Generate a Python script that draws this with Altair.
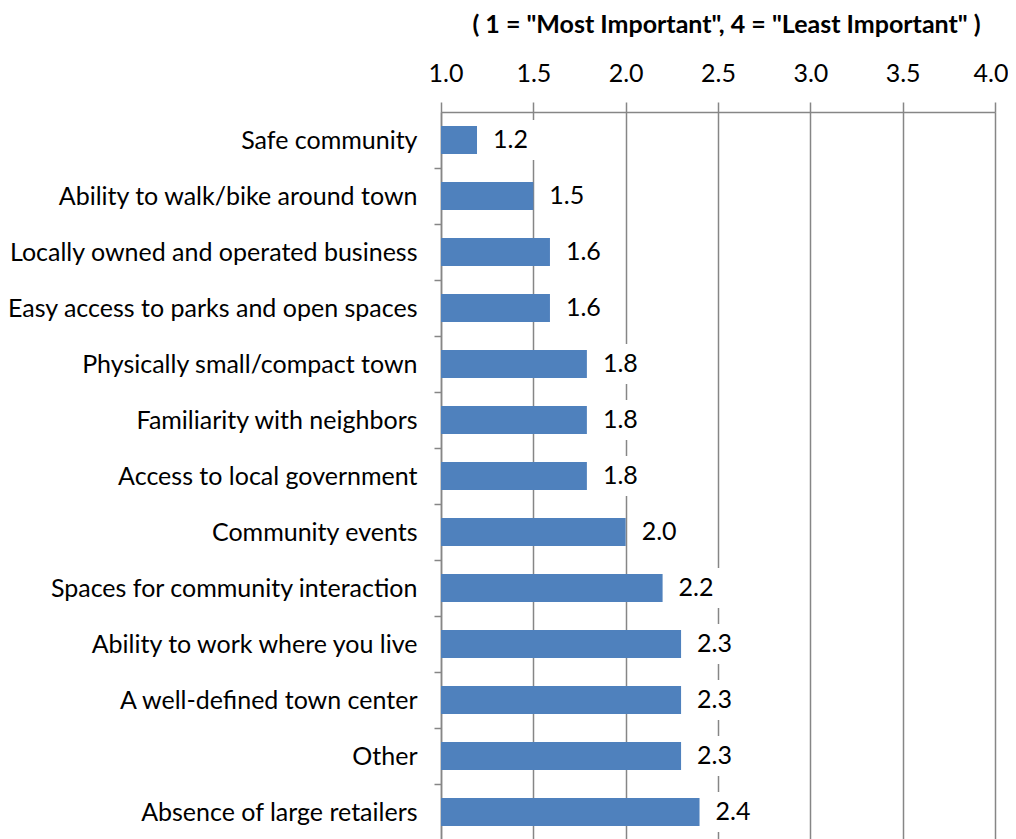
import altair as alt
import pandas as pd

categories = [
    "Safe community",
    "Ability to walk/bike around town",
    "Locally owned and operated business",
    "Easy access to parks and open spaces",
    "Physically small/compact town",
    "Familiarity with neighbors",
    "Access to local government",
    "Community events",
    "Spaces for community interaction",
    "Ability to work where you live",
    "A well-defined town center",
    "Other",
    "Absence of large retailers",
]
values = [1.195, 1.5, 1.59, 1.59, 1.79, 1.79, 1.79, 2.0, 2.2, 2.3, 2.3, 2.3, 2.4]
value_labels = ["1.2", "1.5", "1.6", "1.6", "1.8", "1.8", "1.8", "2.0", "2.2", "2.3", "2.3", "2.3", "2.4"]
tick_values = [1.0, 1.5, 2.0, 2.5, 3.0, 3.5, 4.0]
axis_title = '( 1 = "Most Important", 4 = "Least Important" )'
baseline_value = 1.0

df = pd.DataFrame({"cat": categories, "value": values, "label": value_labels})
df["base"] = baseline_value

FONT = "Lato"
GRID = "#868686"
LABEL_SIZE = 25

xscale = alt.Scale(domain=[1, 4], zero=False, nice=False)
yenc = alt.Y(
    "cat:N",
    sort=categories,
    scale=alt.Scale(paddingInner=0.5, paddingOuter=0.25),
    axis=alt.Axis(
        title=None,
        domainColor=GRID,
        domainWidth=1.5,
        tickColor=GRID,
        tickWidth=1.5,
        tickSize=7,
        tickOffset=28,
        labelOffset=-28,
        labelPadding=17,
        labelFontSize=LABEL_SIZE,
        labelFont=FONT,
        labelColor="black",
        labelLimit=600,
    ),
)

xaxis = alt.Axis(
    orient="top",
    values=tick_values,
    format=".1f",
    title=axis_title,
    titleFont=FONT,
    titleFontSize=25,
    titleFontWeight="bold",
    titleColor="black",
    titlePadding=24,
    titleX=285,
    labelFont=FONT,
    labelFontSize=LABEL_SIZE,
    labelColor="black",
    labelPadding=16,
    labelFlush=True,
    labelFlushOffset=13,
    domainColor=GRID,
    domainWidth=1.5,
    tickColor=GRID,
    tickWidth=1.5,
    tickSize=10,
    grid=True,
    gridColor=GRID,
    gridWidth=1.5,
)

boxes = (
    alt.Chart(df)
    .transform_calculate(bx1="datum.value + 0.045", bx2="datum.value + 0.36")
    .mark_bar(color="white", size=40)
    .encode(
        x=alt.X("bx1:Q", scale=xscale, axis=xaxis),
        x2="bx2:Q",
        y=yenc,
    )
)

bars = (
    alt.Chart(df)
    .mark_bar(color="#4F81BD")
    .encode(
        x=alt.X("base:Q", scale=xscale, axis=xaxis),
        x2="value:Q",
        y=yenc,
    )
)

text = (
    alt.Chart(df)
    .mark_text(align="left", baseline="middle", dx=16, fontSize=LABEL_SIZE, font=FONT, color="black")
    .encode(
        x=alt.X("value:Q", scale=xscale, axis=xaxis),
        y=yenc,
        text="label:N",
    )
)

chart = (
    alt.layer(boxes, bars, text)
    .properties(
        width=554,
        height=728,
        autosize=alt.AutoSizeParams(type="none"),
        padding={"left": 433, "top": 104, "right": 13, "bottom": 0},
    )
    .configure_view(stroke=None)
    .configure(background="white")
)

chart.save("out.html", embed_options={"renderer": "svg", "actions": False})
